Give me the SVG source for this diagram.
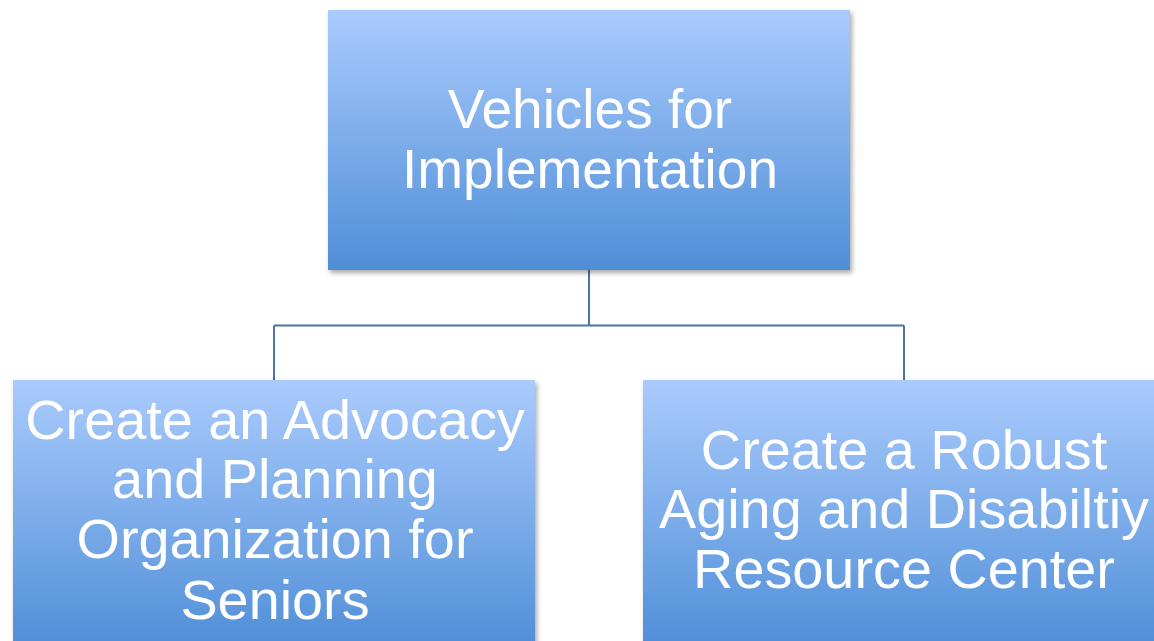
<svg xmlns="http://www.w3.org/2000/svg" width="1154" height="641" viewBox="0 0 1154 641">
<defs>
<linearGradient id="g" x1="0" y1="0" x2="0" y2="1">
<stop offset="0" stop-color="#aacbfd"/>
<stop offset="1" stop-color="#4f8ed7"/>
</linearGradient>
<filter id="sh" x="-5%" y="-5%" width="115%" height="115%">
<feDropShadow dx="2" dy="3" stdDeviation="2.5" flood-color="#000" flood-opacity="0.35"/>
</filter>
<style>
.box{fill:url(#g);filter:url(#sh)}
.t{font-family:"Liberation Sans",Arial,sans-serif;font-size:55px;fill:#fff;text-anchor:middle}
.b{font-size:55.8px}
.c{fill:none;stroke:#4a74a6;stroke-width:2}
</style>
</defs>
<rect width="1154" height="641" fill="#fff"/>
<g id="connectors">
<path class="c" d="M589,270 V325.5 M274,325.5 H904 M274,325.5 V380 M904,325.5 V380"/>
</g>
<g id="top">
<rect class="box" x="328" y="10" width="522" height="260"/>
<text class="t" x="590" y="128">Vehicles for</text>
<text class="t" x="590" y="188">Implementation</text>
</g>
<g id="left">
<rect class="box" x="13" y="380" width="522" height="270"/>
<text class="t b" x="275" y="439">Create an Advocacy</text>
<text class="t b" x="275" y="498">and Planning</text>
<text class="t b" x="275" y="558">Organization for</text>
<text class="t b" x="275" y="619">Seniors</text>
</g>
<g id="right">
<rect class="box" x="643" y="380" width="522" height="270"/>
<text class="t b" x="904" y="469">Create a Robust</text>
<text class="t b" x="904" y="528">Aging and Disabiltiy</text>
<text class="t b" x="904" y="588">Resource Center</text>
</g>
</svg>
